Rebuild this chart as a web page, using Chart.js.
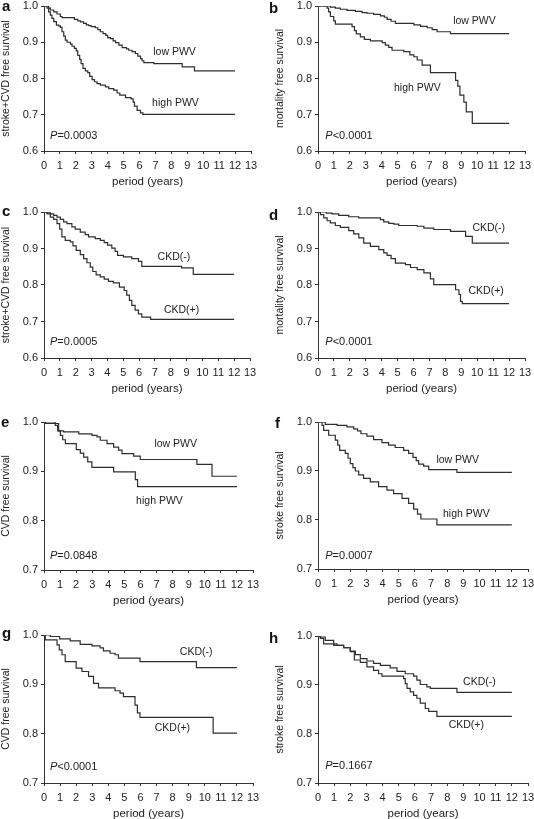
<!DOCTYPE html>
<html>
<head>
<meta charset="utf-8">
<script src="https://cdn.jsdelivr.net/npm/chart.js@4.4.1/dist/chart.umd.min.js"></script>
<style>
  body { margin: 0; background: #fff; }
  #page { position: relative; width: 534px; height: 819px; overflow: hidden; background: #fff; }
  #page canvas { position: absolute; }
</style>
</head>
<body>
<div id="page"></div>
<script>
// survival curves: time (years) and survival after each step
var aLowT = [0, 0.29, 0.40, 0.61, 0.82, 1.03, 1.13, 1.91, 2.12, 2.29, 2.49, 2.66, 2.81, 2.96, 3.23, 3.38, 3.54, 3.71, 3.88, 4.00, 4.17, 4.34, 4.49, 4.70, 4.91, 5.18, 5.32, 5.53, 5.74, 5.89, 6.06, 6.16, 6.27, 6.90, 8.68, 9.45, 12];
var aLowS = [1.0, 0.994, 0.989, 0.984, 0.978, 0.971, 0.968, 0.963, 0.959, 0.956, 0.952, 0.948, 0.946, 0.943, 0.940, 0.935, 0.929, 0.924, 0.919, 0.913, 0.910, 0.904, 0.899, 0.892, 0.885, 0.882, 0.878, 0.874, 0.869, 0.862, 0.855, 0.849, 0.844, 0.841, 0.832, 0.821, 0.821];
var aHighT = [0, 0.19, 0.29, 0.40, 0.50, 0.61, 0.78, 0.92, 1.03, 1.13, 1.24, 1.34, 1.45, 1.66, 1.76, 1.91, 2.03, 2.12, 2.24, 2.33, 2.45, 2.60, 2.75, 2.87, 3.02, 3.17, 3.33, 3.54, 3.86, 4.07, 4.38, 4.59, 4.76, 5.12, 5.47, 5.60, 5.68, 5.85, 6.06, 6.21, 12];
var aHighS = [1.0, 0.994, 0.984, 0.975, 0.966, 0.957, 0.947, 0.945, 0.941, 0.929, 0.917, 0.906, 0.900, 0.895, 0.889, 0.883, 0.876, 0.864, 0.853, 0.841, 0.828, 0.821, 0.816, 0.806, 0.797, 0.791, 0.786, 0.782, 0.777, 0.772, 0.768, 0.760, 0.754, 0.747, 0.744, 0.735, 0.724, 0.712, 0.705, 0.701, 0.701];

var bLowT = [0, 0.78, 1.09, 1.40, 1.82, 2.35, 2.77, 3.08, 3.50, 3.92, 4.17, 4.34, 4.59, 4.86, 6.02, 6.44, 6.86, 7.17, 7.48, 8.32, 12];
var bLowS = [1.0, 0.997, 0.994, 0.991, 0.988, 0.985, 0.982, 0.980, 0.977, 0.973, 0.969, 0.963, 0.958, 0.952, 0.948, 0.944, 0.940, 0.935, 0.929, 0.924, 0.924];
var bHighT = [0, 0.57, 0.67, 0.78, 0.99, 1.09, 2.14, 2.29, 2.41, 2.66, 2.91, 3.29, 4.03, 4.23, 4.44, 4.65, 5.39, 5.77, 6.02, 6.23, 6.54, 7.06, 8.64, 8.78, 8.91, 9.16, 9.31, 9.69, 12];
var bHighS = [1.0, 0.994, 0.984, 0.971, 0.959, 0.950, 0.943, 0.932, 0.923, 0.915, 0.908, 0.904, 0.899, 0.892, 0.886, 0.878, 0.874, 0.865, 0.860, 0.851, 0.837, 0.816, 0.795, 0.779, 0.754, 0.735, 0.708, 0.676, 0.676];

var cNegT = [0, 0.19, 0.40, 0.61, 0.82, 1.03, 1.24, 1.45, 1.76, 1.97, 2.29, 2.60, 2.81, 3.23, 3.55, 3.80, 4.01, 4.28, 4.49, 4.64, 5.01, 5.54, 5.96, 6.17, 8.68, 9.42, 12];
var cNegS = [1.0, 0.998, 0.995, 0.991, 0.986, 0.980, 0.973, 0.968, 0.959, 0.953, 0.945, 0.938, 0.932, 0.927, 0.922, 0.916, 0.909, 0.901, 0.892, 0.881, 0.877, 0.872, 0.865, 0.851, 0.847, 0.829, 0.829];
var cPosT = [0, 0.19, 0.40, 0.61, 0.82, 0.99, 1.13, 1.34, 1.66, 1.83, 2.03, 2.29, 2.50, 2.71, 2.92, 3.08, 3.29, 3.55, 3.80, 4.07, 4.38, 4.76, 5.06, 5.22, 5.39, 5.54, 5.75, 5.96, 6.17, 6.73, 12];
var cPosS = [1.0, 0.995, 0.986, 0.980, 0.968, 0.953, 0.932, 0.922, 0.918, 0.907, 0.895, 0.883, 0.872, 0.861, 0.849, 0.837, 0.828, 0.822, 0.816, 0.810, 0.806, 0.794, 0.785, 0.772, 0.758, 0.744, 0.731, 0.721, 0.712, 0.706, 0.706];

var dNegT = [0, 0.52, 0.88, 1.30, 1.93, 2.56, 3.92, 4.13, 4.44, 4.76, 5.07, 6.23, 6.65, 7.27, 8.32, 9.27, 9.69, 12];
var dNegS = [1.0, 0.997, 0.995, 0.991, 0.987, 0.984, 0.979, 0.973, 0.969, 0.967, 0.963, 0.961, 0.956, 0.952, 0.947, 0.933, 0.915, 0.915];
var dPosT = [0, 0.15, 0.36, 0.57, 0.78, 1.09, 1.40, 1.93, 2.24, 2.56, 2.87, 3.29, 3.82, 4.13, 4.34, 4.59, 4.86, 5.49, 5.81, 6.23, 6.65, 7.06, 7.27, 8.64, 8.85, 8.95, 9.06, 12];
var dPosS = [1.0, 0.993, 0.984, 0.976, 0.970, 0.963, 0.958, 0.949, 0.940, 0.929, 0.915, 0.906, 0.897, 0.888, 0.881, 0.872, 0.860, 0.856, 0.848, 0.842, 0.833, 0.817, 0.801, 0.787, 0.774, 0.755, 0.749, 0.749];

var eLowT = [0, 0.08, 0.91, 1.22, 2.16, 2.98, 3.30, 3.50, 3.92, 4.33, 4.64, 4.85, 5.58, 5.99, 9.51, 10.45, 12];
var eLowS = [1.0, 0.997, 0.982, 0.980, 0.976, 0.973, 0.970, 0.963, 0.956, 0.949, 0.943, 0.936, 0.931, 0.924, 0.914, 0.890, 0.890];
var eHighT = [0, 0.70, 0.85, 1.02, 1.16, 1.33, 2.01, 2.26, 2.47, 2.72, 2.98, 4.33, 5.68, 5.82, 12];
var eHighS = [1.0, 0.993, 0.982, 0.973, 0.964, 0.956, 0.944, 0.937, 0.929, 0.919, 0.908, 0.899, 0.883, 0.869, 0.869];

var fLowT = [0, 0.45, 1.18, 1.79, 2.21, 2.45, 2.66, 3.03, 3.44, 3.96, 4.37, 4.78, 5.30, 5.61, 5.88, 6.08, 6.23, 6.54, 6.85, 8.60, 12];
var fLowS = [1.0, 0.995, 0.993, 0.990, 0.986, 0.982, 0.976, 0.971, 0.964, 0.958, 0.953, 0.948, 0.942, 0.936, 0.928, 0.921, 0.914, 0.910, 0.903, 0.897, 0.897];
var fHighT = [0, 0.25, 0.35, 0.66, 1.07, 1.22, 1.34, 1.69, 1.86, 2.00, 2.16, 2.31, 2.52, 2.82, 3.24, 3.75, 4.27, 4.68, 5.20, 5.61, 5.92, 6.16, 6.37, 7.36, 12];
var fHighS = [1.0, 0.993, 0.983, 0.973, 0.963, 0.953, 0.942, 0.936, 0.926, 0.915, 0.907, 0.900, 0.892, 0.885, 0.878, 0.868, 0.861, 0.854, 0.844, 0.834, 0.822, 0.812, 0.802, 0.790, 0.790];

var gNegT = [0, 0.39, 0.97, 1.63, 2.25, 2.98, 3.49, 3.70, 4.11, 4.42, 4.63, 5.97, 9.48, 12];
var gNegS = [1.0, 0.997, 0.992, 0.988, 0.981, 0.978, 0.974, 0.968, 0.963, 0.960, 0.953, 0.946, 0.934, 0.934];
var gPosT = [0, 0.08, 0.81, 0.95, 1.12, 1.32, 2.00, 2.36, 2.77, 3.08, 3.39, 4.42, 4.73, 4.94, 5.66, 5.81, 5.97, 10.52, 12];
var gPosS = [1.0, 0.990, 0.980, 0.970, 0.960, 0.946, 0.933, 0.926, 0.916, 0.902, 0.893, 0.887, 0.882, 0.875, 0.858, 0.842, 0.833, 0.801, 0.801];

var hNegT = [0, 0.14, 0.45, 0.97, 1.59, 2.00, 2.31, 2.62, 3.03, 3.44, 3.86, 4.47, 4.89, 5.40, 5.92, 6.12, 6.33, 6.74, 6.95, 8.60, 12];
var hNegS = [1.0, 0.998, 0.991, 0.981, 0.976, 0.969, 0.962, 0.954, 0.949, 0.944, 0.940, 0.935, 0.928, 0.923, 0.918, 0.910, 0.901, 0.896, 0.893, 0.885, 0.885];
var hPosT = [0, 0.14, 0.35, 1.18, 1.59, 2.00, 2.25, 2.62, 3.03, 3.44, 3.75, 3.96, 5.30, 5.40, 5.51, 5.71, 5.92, 6.12, 6.33, 6.64, 6.85, 7.36, 12];
var hPosS = [1.0, 0.995, 0.984, 0.981, 0.976, 0.968, 0.951, 0.946, 0.937, 0.930, 0.923, 0.918, 0.913, 0.903, 0.893, 0.886, 0.879, 0.873, 0.863, 0.852, 0.846, 0.836, 0.836];

var xTicksMax = 13;
var fontFamily = '"Liberation Sans", Arial, Helvetica, sans-serif';
var ink = '#222';
var lineInk = '#2e2e2e';

Chart.defaults.font.family = fontFamily;
Chart.defaults.color = ink;

// panel layout: L/T = chart area left/top on the page, W/H = chart area size
var panels = [
    { letter: 'a', L: 44, T: 6, W: 207, H: 145, yMin: 0.6, letterPos: [-42, 4.5],
      yTitle: 'stroke+CVD free survival', series: [[aLowT, aLowS], [aHighT, aHighS]],
      labels: [['low PWV', 6.86, 0.874], ['high PWV', 6.79, 0.733]], p: ['=0.0003', 0.38, 0.641] },
    { letter: 'b', L: 318, T: 6, W: 207, H: 145, yMin: 0.6, letterPos: [-49, 7],
      yTitle: 'mortality free survival', series: [[bLowT, bLowS], [bHighT, bHighS]],
      labels: [['low PWV', 8.49, 0.957], ['high PWV', 4.77, 0.773]], p: ['<0.0001', 0.46, 0.641] },
    { letter: 'c', L: 44, T: 212, W: 206, H: 146, yMin: 0.6, letterPos: [-42, 4],
      yTitle: 'stroke+CVD free survival', series: [[cNegT, cNegS], [cPosT, cPosS]],
      labels: [['CKD(-)', 7.17, 0.877], ['CKD(+)', 7.57, 0.731]], p: ['=0.0005', 0.38, 0.644] },
    { letter: 'd', L: 318, T: 212, W: 207, H: 146, yMin: 0.6, letterPos: [-49, 8],
      yTitle: 'mortality free survival', series: [[dNegT, dNegS], [dPosT, dPosS]],
      labels: [['CKD(-)', 9.70, 0.956], ['CKD(+)', 9.45, 0.784]], p: ['<0.0001', 0.46, 0.645] },
    { letter: 'e', L: 44, T: 422, W: 209, H: 148, yMin: 0.7, letterPos: [-43, 5],
      yTitle: 'CVD free survival', series: [[eLowT, eLowS], [eHighT, eHighS]],
      labels: [['low PWV', 6.87, 0.956], ['high PWV', 5.73, 0.840]], p: ['=0.0848', 0.37, 0.729] },
    { letter: 'f', L: 318, T: 422, W: 210, H: 147, yMin: 0.7, letterPos: [-43, 6],
      yTitle: 'stroke free survival', series: [[fLowT, fLowS], [fHighT, fHighS]],
      labels: [['low PWV', 7.33, 0.922], ['high PWV', 7.74, 0.812]], p: ['=0.0007', 0.45, 0.727] },
    { letter: 'g', L: 44, T: 635, W: 209, H: 148, yMin: 0.7, letterPos: [-42, 3],
      yTitle: 'CVD free survival', series: [[gNegT, gNegS], [gPosT, gPosS]],
      labels: [['CKD(-)', 8.45, 0.966], ['CKD(+)', 6.89, 0.811]], p: ['<0.0001', 0.37, 0.733] },
    { letter: 'h', L: 318, T: 636, W: 210, H: 147, yMin: 0.7, letterPos: [-49, 7],
      yTitle: 'stroke free survival', series: [[hNegT, hNegS], [hPosT, hPosS]],
      labels: [['CKD(-)', 8.98, 0.9065], ['CKD(+)', 8.09, 0.8185]], p: ['=0.1667', 0.45, 0.734] }
];

var PAD_L = 8, PAD_T = 12, PAD_R = 14, Y_W = 44, X_H = 38;

function toPoints(times, surv) {
    return times.map(function(t, i) { return { x: t, y: surv[i] }; });
}

// panel letter, P value and curve labels
var panelText = {
    id: 'panelText',
    afterDraw: function(chart, args, opts) {
        var ctx = chart.ctx;
        var area = chart.chartArea;
        var sx = chart.scales.x, sy = chart.scales.y;
        ctx.save();
        ctx.fillStyle = '#111';
        ctx.textAlign = 'left';
        ctx.textBaseline = 'alphabetic';
        ctx.font = 'bold 15px ' + fontFamily;
        ctx.fillText(opts.letter, area.left + opts.letterPos[0], area.top + opts.letterPos[1]);

        ctx.fillStyle = ink;
        ctx.textBaseline = 'middle';
        ctx.font = '10.5px ' + fontFamily;
        opts.labels.forEach(function(l) {
            ctx.fillText(l[0], sx.getPixelForValue(l[1]), sy.getPixelForValue(l[2]));
        });

        var px = sx.getPixelForValue(opts.p[1]);
        var py = sy.getPixelForValue(opts.p[2]);
        ctx.font = 'italic 11px ' + fontFamily;
        ctx.fillText('P', px, py);
        var w = ctx.measureText('P').width;
        ctx.font = '11px ' + fontFamily;
        ctx.fillText(opts.p[0], px + w, py);
        ctx.restore();
    }
};

var page = document.getElementById('page');

panels.forEach(function(p) {
    var canvas = document.createElement('canvas');
    canvas.width = p.W + PAD_L + Y_W + PAD_R;
    canvas.height = p.H + PAD_T + X_H;
    canvas.style.left = (p.L - PAD_L - Y_W) + 'px';
    canvas.style.top = (p.T - PAD_T) + 'px';
    page.appendChild(canvas);

    var axisGrid = { display: true, drawOnChartArea: false, drawTicks: true, tickLength: 3, color: '#333', lineWidth: 1 };

    new Chart(canvas, {
        type: 'line',
        data: {
            datasets: p.series.map(function(s) {
                return {
                    data: toPoints(s[0], s[1]),
                    stepped: 'before',
                    borderColor: lineInk,
                    borderWidth: 1.2,
                    pointRadius: 0,
                    fill: false
                };
            })
        },
        options: {
            responsive: false,
            animation: false,
            events: [],
            layout: { padding: { left: PAD_L, top: PAD_T, right: PAD_R, bottom: 0 } },
            plugins: {
                legend: { display: false },
                tooltip: { enabled: false },
                panelText: { letter: p.letter, letterPos: p.letterPos, labels: p.labels, p: p.p }
            },
            scales: {
                x: {
                    type: 'linear',
                    min: 0,
                    max: xTicksMax,
                    ticks: { stepSize: 1, padding: 5, autoSkip: false, maxRotation: 0, minRotation: 0, font: { size: 11 }, color: ink },
                    grid: axisGrid,
                    border: { display: true, color: '#333', width: 1 },
                    title: { display: true, text: 'period (years)', padding: 0, font: { size: 11.5 }, color: ink },
                    afterFit: function(scale) { scale.height = X_H; }
                },
                y: {
                    min: p.yMin,
                    max: 1.0,
                    ticks: {
                        stepSize: 0.1,
                        padding: 3,
                        font: { size: 11 },
                        color: ink,
                        callback: function(v) { return v.toFixed(1); }
                    },
                    grid: axisGrid,
                    border: { display: true, color: '#333', width: 1 },
                    title: { display: true, text: p.yTitle, padding: 0, font: { size: 10.5 }, color: ink },
                    afterFit: function(scale) { scale.width = Y_W; }
                }
            }
        },
        plugins: [panelText]
    });
});
</script>
</body>
</html>
